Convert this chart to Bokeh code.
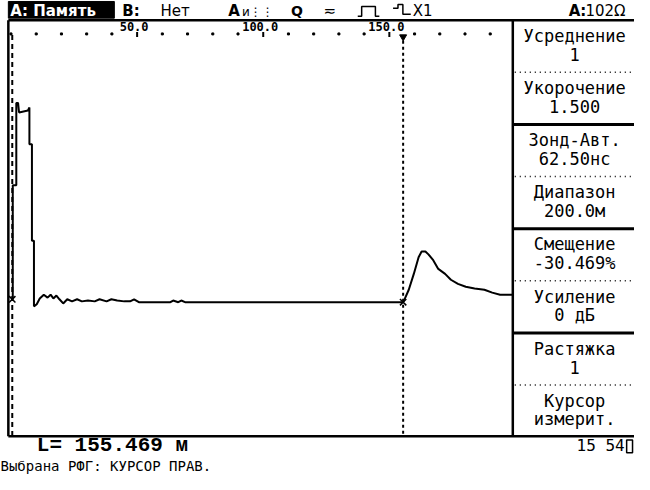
from bokeh.plotting import figure
from bokeh.models import Range1d
from bokeh.core.properties import value
from bokeh.embed import file_html
from bokeh.resources import INLINE

# ---------------- data ----------------
# reflectogram trace: distance in metres, amplitude in % of screen height
trace_m = [0.1, 0.7, 0.7, 2.1, 2.1, 2.8, 3.2, 6.7, 7.3, 7.3, 8.3, 8.3, 9.1, 9.1,
           10.2, 11.4, 13.0, 14.5, 15.7, 16.8, 18.0, 19.2, 20.7, 22.3, 24.2, 26.2,
           28.1, 30.5, 33.2, 35.1, 37.9, 39.8, 42.1, 44.9, 47.2, 48.8, 50.7, 63.2,
           64.3, 66.3, 67.5, 69.0, 72.1, 155.4, 155.8, 157.7, 159.7, 161.6, 162.8,
           164.3, 165.5, 167.4, 169.4, 172.1, 174.4, 177.2, 180.3, 183.8, 187.7,
           190.8, 193.9, 198.9]
trace_amp = [32.9, 32.9, 60.3, 60.3, 80.1, 80.1, 77.8, 78.3, 79.0, 70.2, 70.2, 47.0, 47.0, 31.2,
             31.7, 33.1, 34.0, 33.3, 34.0, 33.1, 33.8, 32.9, 31.9, 32.9, 32.4, 32.9,
             32.4, 32.6, 32.4, 32.9, 32.4, 32.9, 32.6, 32.4, 32.4, 32.9, 32.2, 32.2,
             32.6, 32.2, 32.6, 32.2, 32.2, 32.2, 32.6, 35.2, 39.0, 43.0, 44.4,
             44.4, 43.7, 42.3, 40.2, 39.0, 37.6, 36.6, 35.9, 35.5, 35.2,
             34.5, 34.0, 34.0]
scale_ticks_m = [50, 100, 150]
scale_labels = ["50.0", "100.0", "150.0"]
scale_dots_m = [0, 10, 20, 30, 40, 60, 70, 80, 90, 110, 120, 130, 140, 160, 170, 180, 190]
cursor_left_m = 0.5
cursor_right_m = 155.469
cursor_marker_amp = [32.9, 32.2]
panel_titles = ["Усреднение", "Укорочение", "Зонд-Авт.", "Диапазон",
                "Смещение", "Усиление", "Растяжка", "Курсор"]
panel_values = ["1", "1.500", "62.50нс", "200.0м", "-30.469%", "0 дБ", "1", "измерит."]
status_length = "L= 155.469 м"
status_time = "15 54"
status_message = "Выбрана РФГ: КУРСОР ПРАВ."

# ---------------- layout (reference pixel frame) ----------------
W, H = 634, 474
RX0, RX1 = 4, 650
RY0, RY1 = 9, 491
PX0, PXM = 14.7, 2.57      # px of 0 m, px per metre
AMP0, PXA = 452.0, 4.23    # px of 0 %, px per %
HY = 19.5                  # header text row
MONO = value("DejaVu Sans Mono")
SANS = value("DejaVu Sans")

p = figure(width=W, height=H, x_range=Range1d(RX0, RX1), y_range=Range1d(RY1, RY0),
           min_border=0, x_axis_location=None, y_axis_location=None,
           output_backend="svg", toolbar_location=None)
p.grid.visible = False
p.outline_line_color = None
p.background_fill_color = "white"
p.border_fill_color = "white"
p.extra_x_ranges = {"m": Range1d((RX0 - PX0) / PXM, (RX1 - PX0) / PXM)}
p.extra_y_ranges = {"amp": Range1d((AMP0 - RY1) / PXA, (AMP0 - RY0) / PXA)}

# ---- header bar ----
p.quad(left=[12], right=[120], top=[10], bottom=[27], color="black")
p.text(x=[14], y=[HY], text=["А: Память"], text_color="white", text_font=SANS,
       text_font_size="15px", text_baseline="middle", text_font_style="bold")
p.text(x=[128], y=[HY], text=["В:"], text_font=SANS, text_font_size="15px",
       text_baseline="middle", text_font_style="bold")
p.text(x=[167], y=[HY], text=["Нет"], text_font=SANS, text_font_size="15px",
       text_baseline="middle")
p.text(x=[236], y=[HY], text=["А"], text_font=SANS, text_font_size="15px",
       text_baseline="middle", text_font_style="bold")
p.text(x=[250], y=[HY + 1], text=["и⋮⋮"], text_font=SANS, text_font_size="12px",
       text_baseline="middle")
p.text(x=[300], y=[HY], text=["Q"], text_font=SANS, text_font_size="14px",
       text_baseline="middle", text_font_style="bold")
p.text(x=[333], y=[HY], text=["≂"], text_font=SANS, text_font_size="15px",
       text_baseline="middle")
p.line(x=[368, 372, 372, 386, 386, 390], y=[25, 25, 15, 15, 25, 25], color="black", line_width=1.5)
p.line(x=[404, 409, 409, 414, 414, 422], y=[17, 17, 13, 13, 23, 23], color="black", line_width=1.5)
p.text(x=[424], y=[HY], text=["X1"], text_font=SANS, text_font_size="15px",
       text_baseline="middle")
p.text(x=[583], y=[HY], text=["А:"], text_font=SANS, text_font_size="15px",
       text_baseline="middle", text_font_style="bold")
p.text(x=[600], y=[HY], text=["102Ω"], text_font=SANS, text_font_size="15px",
       text_baseline="middle")

# ---- frame lines ----
p.segment(x0=[12, 12, 12, 526], y0=[29, 29, 452, 29], x1=[650, 12, 650, 526], y1=[29, 452, 452, 452],
          color="black", line_width=2.5)

# ---- distance scale ----
p.scatter(x=scale_dots_m, y=[43] * len(scale_dots_m), x_range_name="m", marker="square",
          size=2, color="black")
p.segment(x0=scale_ticks_m, y0=[41] * 3, x1=scale_ticks_m, y1=[46] * 3, x_range_name="m",
          color="black", line_width=2)
p.text(x=scale_ticks_m, y=[35] * 3, text=scale_labels, x_range_name="m", x_offset=-3,
       text_font=MONO, text_font_size="12px", text_font_style="bold",
       text_align="center", text_baseline="middle")

# ---- cursors ----
p.segment(x0=[cursor_left_m], y0=[44], x1=[cursor_left_m], y1=[451], x_range_name="m",
          color="black", line_width=2, line_dash="5 4")
p.segment(x0=[cursor_right_m], y0=[50], x1=[cursor_right_m], y1=[451], x_range_name="m",
          color="black", line_width=2, line_dash="3 3")
p.scatter(x=[cursor_right_m], y=[46], x_range_name="m", marker="inverted_triangle",
          size=7, color="black")

# ---- trace ----
p.line(x=trace_m, y=trace_amp, x_range_name="m", y_range_name="amp",
       color="black", line_width=2)
p.scatter(x=[cursor_left_m, cursor_right_m], y=cursor_marker_amp, x_range_name="m",
          y_range_name="amp", marker="x", size=9, line_width=1.5, color="black")

# ---- right panel ----
box_tops = [29 + i * 53 for i in range(8)]
thick = [t for i, t in enumerate(box_tops) if i % 2 == 0 and i > 0]
dotted = [t for i, t in enumerate(box_tops) if i % 2 == 1]
p.segment(x0=[526] * len(thick), y0=thick, x1=[650] * len(thick), y1=thick,
          color="black", line_width=3)
p.segment(x0=[528] * len(dotted), y0=dotted, x1=[650] * len(dotted), y1=dotted,
          color="black", line_width=1.5, line_dash="1 4")
p.text(x=[589] * 8, y=[t + 16 for t in box_tops], text=panel_titles, text_font=MONO,
       text_font_size="17px", text_align="center", text_baseline="middle")
p.text(x=[589] * 8, y=[t + 35 for t in box_tops], text=panel_values, text_font=MONO,
       text_font_size="17px", text_align="center", text_baseline="middle")

# ---- status rows ----
p.text(x=[41], y=[462], text=[status_length], text_font=value("Liberation Mono"),
       text_font_size="21px", text_font_style="bold", text_baseline="middle")
p.text(x=[640], y=[462], text=[status_time], text_font=MONO, text_font_size="16px",
       text_align="right", text_baseline="middle")
p.quad(left=[642], right=[648], top=[456], bottom=[469], fill_color="white",
       line_color="black", line_width=1.5)
p.text(x=[4], y=[482], text=[status_message], text_font=MONO, text_font_size="14px",
       text_baseline="middle")

open("out.html", "w").write(file_html(p, INLINE))
